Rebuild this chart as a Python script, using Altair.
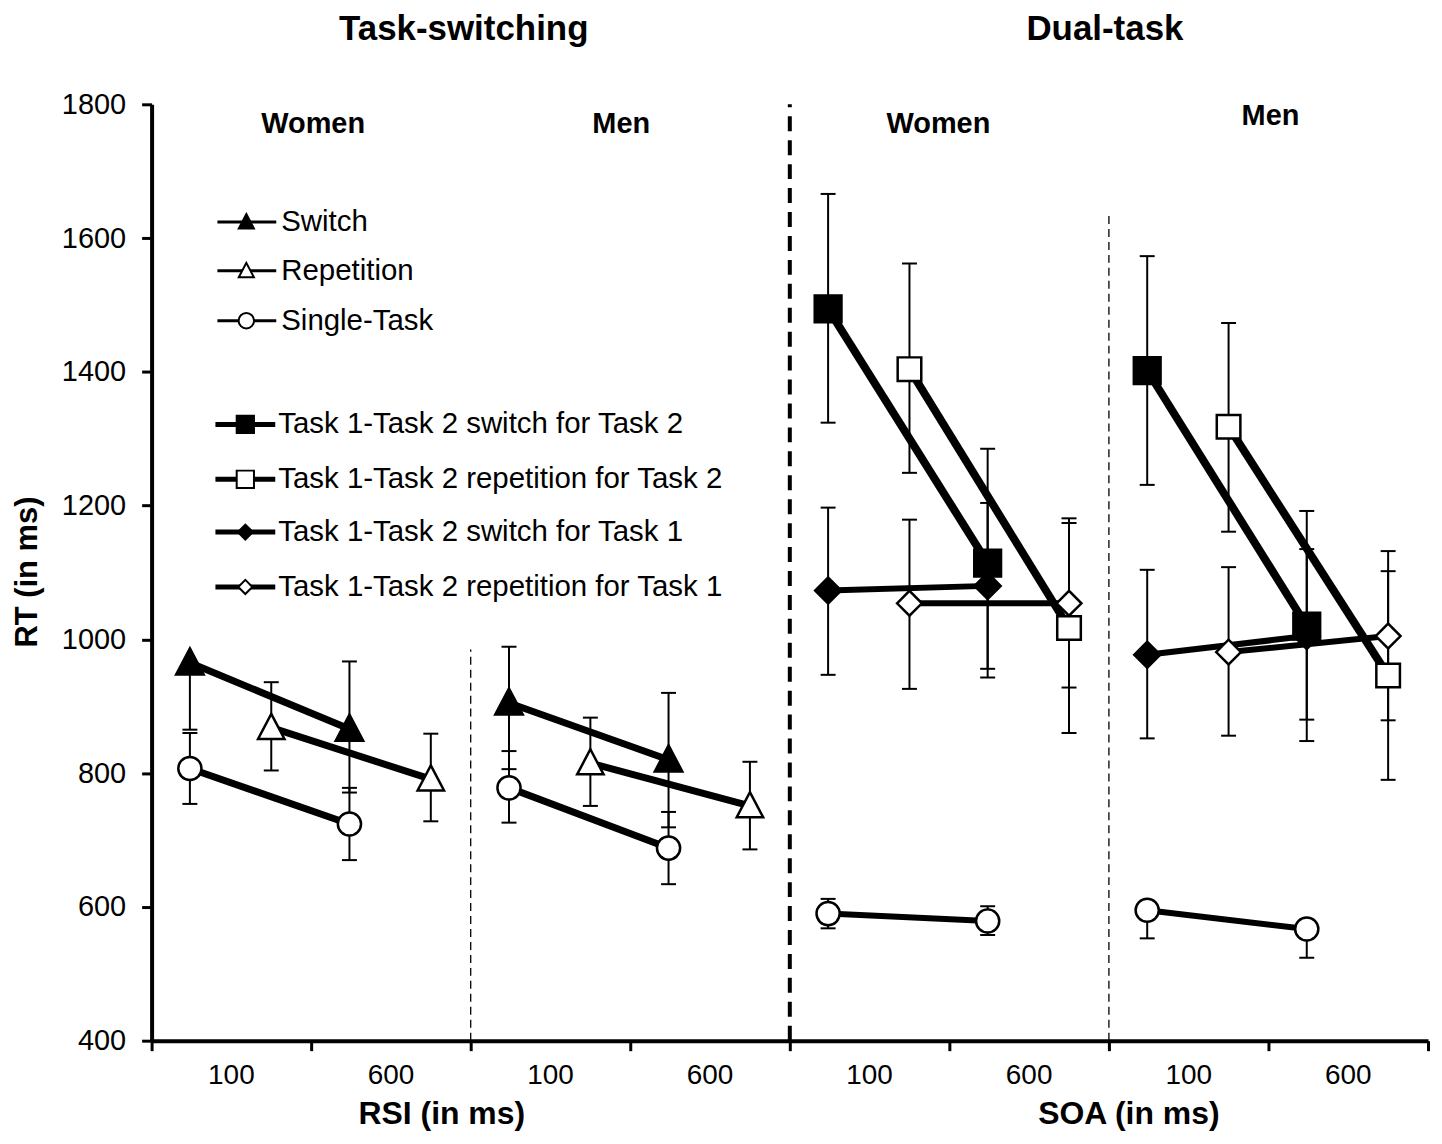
import altair as alt
import pandas as pd

# ---------------- data ----------------
# order inside each series: Women 100, Women 600, Men 100, Men 600
conditions = ["Women 100", "Women 600", "Men 100", "Men 600"]
tick_labels = ["100", "600", "100", "600", "100", "600", "100", "600"]

ts_switch_mean = [965, 866, 905, 820]
ts_switch_lo = [865, 771, 806, 719]
ts_switch_hi = [965, 967, 989, 920]

ts_rep_mean = [868, 791, 815, 751]
ts_rep_lo = [804, 728, 751, 686]
ts_rep_hi = [936, 859, 883, 817]

ts_single_mean = [807, 724, 778, 688]
ts_single_lo = [754, 670, 726, 634]
ts_single_hi = [860, 778, 833, 742]

dt_t2sw_mean = [1494, 1114, 1402, 1020]
dt_t2sw_lo = [1324, 943, 1231, 848]
dt_t2sw_hi = [1666, 1285, 1573, 1192]

dt_t2rep_mean = [1404, 1017, 1318, 946]
dt_t2rep_lo = [1249, 860, 1161, 790]
dt_t2rep_hi = [1562, 1174, 1473, 1102]

dt_t1sw_mean = [1073, 1080, 977, 1005]
dt_t1sw_lo = [947, 956, 852, 880]
dt_t1sw_hi = [1197, 1204, 1104, 1135]

dt_t1rep_mean = [1054, 1054, 981, 1005]
dt_t1rep_lo = [926, 928, 856, 879]
dt_t1rep_hi = [1179, 1181, 1108, 1132]

dt_single_mean = [590, 579, 595, 567]
dt_single_lo = [568, 558, 553, 524]
dt_single_hi = [612, 601, 595, 567]

legend_labels = [
    "Switch", "Repetition", "Single-Task",
    "Task 1-Task 2 switch for Task 2",
    "Task 1-Task 2 repetition for Task 2",
    "Task 1-Task 2 switch for Task 1",
    "Task 1-Task 2 repetition for Task 1",
]

# ---------------- styles / layout ----------------
FONT = "Liberation Sans"
TRI = "M0,-1.05L1,0.85L-1,0.85Z"
CAP = "M-1,0L1,0"

# key, mean, lo, hi, paradigm base slot, side offset, shape, fill, size, line width, legend row, legend size
series = [
    ("Switch", ts_switch_mean, ts_switch_lo, ts_switch_hi, 0, 0.24, TRI, "black", 760, 7, 0, 230),
    ("Repetition", ts_rep_mean, ts_rep_lo, ts_rep_hi, 0, 0.75, TRI, "white", 700, 7, 1, 230),
    ("Single TS", ts_single_mean, ts_single_lo, ts_single_hi, 0, 0.24, "circle", "white", 540, 7, None, 0),
    ("Single DT", dt_single_mean, dt_single_lo, dt_single_hi, 4, 0.24, "circle", "white", 540, 6, 2, 240),
    ("T2 switch", dt_t2sw_mean, dt_t2sw_lo, dt_t2sw_hi, 4, 0.24, "square", "black", 720, 8, 3, 300),
    ("T2 repetition", dt_t2rep_mean, dt_t2rep_lo, dt_t2rep_hi, 4, 0.75, "square", "white", 560, 8, 4, 300),
    ("T1 switch", dt_t1sw_mean, dt_t1sw_lo, dt_t1sw_hi, 4, 0.24, "diamond", "black", 680, 6, 5, 230),
    ("T1 repetition", dt_t1rep_mean, dt_t1rep_lo, dt_t1rep_hi, 4, 0.75, "diamond", "white", 620, 6, 6, 200),
]

rows = []
for key, mean, lo, hi, base, off, shape, fill, size, lw, lrow, lsize in series:
    for i, cond in enumerate(conditions):
        rows.append(dict(series=key, cond=cond, x=base + i + off, mean=mean[i],
                         lo=lo[i], hi=hi[i], group=f"{key}-{i // 2}"))
df = pd.DataFrame(rows)

caps = []
for r in rows:
    if r["lo"] < r["mean"]:
        caps.append(dict(x=r["x"], y=r["lo"]))
    if r["hi"] > r["mean"]:
        caps.append(dict(x=r["x"], y=r["hi"]))
df_caps = pd.DataFrame(caps)

# scales/axes
PLOT_W, PLOT_H = 1280, 939
xscale = alt.Scale(domain=[0, 8], nice=False, zero=False)
yscale = alt.Scale(domain=[400, 1800], nice=False, zero=False)
xaxis = alt.Axis(values=list(range(0, 9)), labels=False, title=None, grid=False,
                 ticks=True, tickSize=10, tickWidth=3, tickColor="black",
                 domainColor="black", domainWidth=4)
yaxis = alt.Axis(values=list(range(400, 1801, 200)), format="d", title=None, grid=False,
                 labelFont=FONT, labelFontSize=29, labelColor="black", labelPadding=16,
                 tickSize=10, tickWidth=3, tickColor="black",
                 domainColor="black", domainWidth=4)


def X(f):
    return alt.X(f, type="quantitative", scale=xscale, axis=xaxis)


def Y(f):
    return alt.Y(f, type="quantitative", scale=yscale, axis=yaxis)


def px_to_x(px):
    return (px - 152) / 160.0


def py_to_y(py):
    return 1800 - (py - 103) * 1400.0 / PLOT_H


layers = []

# separators
df_sep = pd.DataFrame([
    dict(x=2, y1=400, y2=985, kind="thin"),
    dict(x=6, y1=400, y2=1637, kind="thin"),
    dict(x=4, y1=400, y2=1800, kind="thick"),
])
layers.append(alt.Chart(df_sep[df_sep.kind == "thin"]).mark_rule(
    color="black", strokeWidth=1.3, strokeDash=[8, 5]).encode(x=X("x"), y=Y("y1"), y2=alt.Y2("y2")))
layers.append(alt.Chart(df_sep[df_sep.kind == "thick"]).mark_rule(
    color="black", strokeWidth=4, strokeDash=[15, 9]).encode(x=X("x"), y=Y("y1"), y2=alt.Y2("y2")))

# error bars
layers.append(alt.Chart(df).mark_rule(color="black", strokeWidth=2).encode(
    x=X("x"), y=Y("lo"), y2=alt.Y2("hi")))
layers.append(alt.Chart(df_caps).mark_point(shape=CAP, filled=False, stroke="black",
                                            strokeWidth=2, size=225, opacity=1).encode(
    x=X("x"), y=Y("y")))

# lines
for key, mean, lo, hi, base, off, shape, fill, size, lw, lrow, lsize in series:
    layers.append(alt.Chart(df[df.series == key]).mark_line(
        color="black", strokeWidth=lw).encode(x=X("x"), y=Y("mean"), detail="group:N"))

# markers
for key, mean, lo, hi, base, off, shape, fill, size, lw, lrow, lsize in series:
    layers.append(alt.Chart(df[df.series == key]).mark_point(
        shape=shape, filled=True, fill=fill, stroke="black", strokeWidth=2.5,
        size=size, opacity=1).encode(x=X("x"), y=Y("mean")))

# legend
legend_py = [221, 270, 320, 424, 479, 532, 587]
leg_rows = []
for key, mean, lo, hi, base, off, shape, fill, size, lw, lrow, lsize in series:
    if lrow is None:
        continue
    g1 = lrow < 3
    leg_rows.append(dict(
        label=legend_labels[lrow], shape=shape, fill=fill, msize=lsize,
        lw=3 if g1 else 5,
        y=py_to_y(legend_py[lrow]),
        x0=px_to_x(218 if g1 else 216), x1=px_to_x(277 if g1 else 276),
        xm=px_to_x(247 if g1 else 246), xt=px_to_x(282 if g1 else 279)))
df_leg = pd.DataFrame(leg_rows)

layers.append(alt.Chart(df_leg).mark_rule(color="black").encode(
    x=X("x0"), x2=alt.X2("x1"), y=Y("y"), strokeWidth=alt.StrokeWidth("lw:Q", scale=None)))
for _, r in df_leg.iterrows():
    layers.append(alt.Chart(df_leg[df_leg.label == r["label"]]).mark_point(
        shape=r["shape"], filled=True, fill=r["fill"], stroke="black", strokeWidth=2,
        size=int(r["msize"]), opacity=1).encode(x=X("xm"), y=Y("y")))
layers.append(alt.Chart(df_leg).mark_text(
    align="left", baseline="middle", font=FONT, fontSize=29.5, color="black").encode(
    x=X("xt"), y=Y("y"), text="label:N"))

# x tick labels
df_ticks = pd.DataFrame(dict(label=tick_labels, tx=[i + 0.5 for i in range(len(tick_labels))]))
layers.append(alt.Chart(df_ticks).mark_text(
    align="center", baseline="middle", font=FONT, fontSize=28, color="black").encode(
    x=X("tx"), y=alt.value(974), text="label:N"))

# panel labels
df_panel = pd.DataFrame(dict(label=["Women", "Men", "Women", "Men"],
                             px=[px_to_x(314), px_to_x(623), px_to_x(941), px_to_x(1274)],
                             py=[py_to_y(123), py_to_y(123), py_to_y(123), py_to_y(115)]))
layers.append(alt.Chart(df_panel).mark_text(
    align="center", baseline="middle", font=FONT, fontSize=29, fontWeight="bold",
    color="black").encode(x=X("px"), y=Y("py"), text="label:N"))

# titles
df_titles = pd.DataFrame(dict(label=["Task-switching", "Dual-task"],
                              px=[px_to_x(465), px_to_x(1108)]))
layers.append(alt.Chart(df_titles).mark_text(
    align="center", baseline="middle", font=FONT, fontSize=35, fontWeight="bold",
    color="black").encode(x=X("px"), y=alt.value(28 - 103), text="label:N"))

df_xt = pd.DataFrame(dict(label=["RSI (in ms)", "SOA (in ms)"],
                          px=[px_to_x(443), px_to_x(1132)]))
layers.append(alt.Chart(df_xt).mark_text(
    align="center", baseline="alphabetic", font=FONT, fontSize=32, fontWeight="bold",
    color="black").encode(x=X("px"), y=alt.value(1126 - 103), text="label:N"))

df_yt = pd.DataFrame(dict(label=["RT (in ms)"]))
layers.append(alt.Chart(df_yt).mark_text(
    align="center", baseline="middle", font=FONT, fontSize=31, fontWeight="bold",
    color="black", angle=270).encode(x=alt.value(28 - 152), y=alt.value(572 - 103),
                                     text="label:N"))

chart = alt.layer(*layers).properties(
    width=PLOT_W, height=PLOT_H,
    autosize=alt.AutoSizeParams(type="none"),
    padding={"left": 144, "top": 95, "right": 6, "bottom": 94},
    background="white",
).configure_view(stroke="transparent")

chart.save("out.html", embed_options={"renderer": "svg", "actions": False})
